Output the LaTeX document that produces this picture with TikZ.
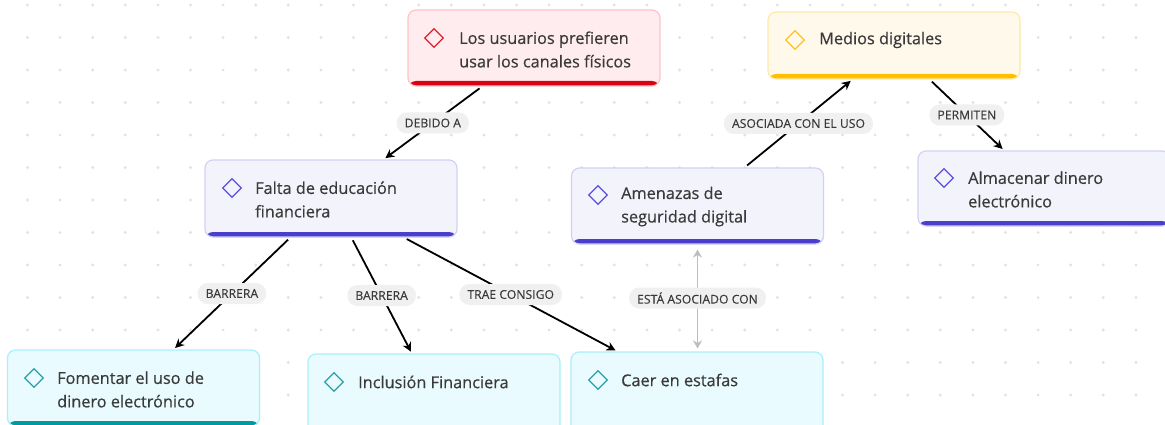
\documentclass[tikz,border=0pt]{standalone}
\usepackage{fontspec}
\setmainfont{Open Sans}
\newfontfamily\boxfont[FakeBold=0.5]{Open Sans}
\newfontfamily\pillfont[FakeBold=0.2]{Open Sans}
\usetikzlibrary{shapes.geometric,arrows.meta}
\definecolor{redfill}{HTML}{FFECEE}
\definecolor{redline}{HTML}{FFC4C8}
\definecolor{redbar}{HTML}{DD0010}
\definecolor{reddia}{HTML}{E0202A}
\definecolor{yelfill}{HTML}{FFF9EC}
\definecolor{yelline}{HTML}{FFE9A8}
\definecolor{yelbar}{HTML}{FFC000}
\definecolor{yeldia}{HTML}{FFC21F}
\definecolor{purfill}{HTML}{F3F3FC}
\definecolor{purline}{HTML}{D4D0F5}
\definecolor{purbar}{HTML}{4A3FCC}
\definecolor{purdia}{HTML}{5C4FE0}
\definecolor{cyafill}{HTML}{E9FBFE}
\definecolor{cyaline}{HTML}{A8F0FA}
\definecolor{cyabar}{HTML}{00999F}
\definecolor{cyadia}{HTML}{2AA0A8}
\definecolor{txt}{HTML}{3A3A3A}
\definecolor{dotc}{HTML}{E2E2E2}
\definecolor{pill}{HTML}{F0F0F0}
\definecolor{grayarrow}{HTML}{BDBDBD}
\tikzset{
  box/.style n args={3}{draw=#2, fill=#1, line width=1.2pt, rounded corners=8pt,
    minimum width=252pt, minimum height=76pt, inner sep=0pt,
    path picture={\fill[#3] ([yshift=5pt]path picture bounding box.south west) rectangle (path picture bounding box.south east);}},
  dia/.style={draw=#1, shape=diamond, minimum size=19pt, inner sep=0pt, line width=1.3pt},
  lbltext/.style={anchor=west, text=txt, align=left, inner sep=0pt, font=\boxfont\fontsize{16.3}{23.5}\selectfont},
  conn/.style={line width=1.8pt, black, -{Stealth[length=9pt,width=9pt]}, shorten <=3pt, shorten >=2pt},
  lbl/.style={fill=pill, rounded corners=10pt, text=txt, font=\pillfont\fontsize{12.2}{14}\selectfont, inner xsep=8pt, inner ysep=4pt, minimum height=21pt},
}
\begin{document}
\begin{tikzpicture}[x=1pt,y=-1pt]
\clip (0,0) rectangle (1165,425);
\fill[white] (0,0) rectangle (1165,425);
% dot grid
\foreach \i in {0,...,35} {
  \foreach \j in {0,...,13} {
    \fill[dotc] (27.5+32.6*\i, 5+32.5*\j) circle (1.6pt);
  }
}
% boxes
\node[box={redfill}{redline}{redbar}] (usu) at (534,48) {};
\node[box={yelfill}{yelline}{yelbar}, minimum height=67pt] (med) at (894,45.5) {};
\node[box={purfill}{purline}{purbar}, minimum height=77pt] (fal) at (331,198.5) {};
\node[box={purfill}{purline}{purbar}] (ame) at (697.5,206) {};
\node[box={purfill}{purline}{purbar}, minimum height=75pt] (alm) at (1044,188.5) {};
\node[box={cyafill}{cyaline}{cyabar}] (fom) at (133.5,388) {};
\node[box={cyafill}{cyaline}{cyabar}, minimum height=84pt] (inc) at (434,396) {};
\node[box={cyafill}{cyaline}{cyabar}, minimum height=84pt] (cae) at (697,394) {};
% diamonds and texts
\node[dia=reddia] (d1) at (434,38) {};
\node[lbltext] (t1) at (459,49.5) {Los usuarios prefieren\\usar los canales físicos};
\node[dia=yeldia] (d2) at (795,40) {};
\node[lbltext] (t2) at (819,40) {Medios digitales};
\node[dia=purdia] (d3) at (232,188) {};
\node[lbltext] (t3) at (255,199.5) {Falta de educación\\financiera};
\node[dia=purdia] (d4) at (598,195) {};
\node[lbltext] (t4) at (621,206.5) {Amenazas de\\seguridad digital};
\node[dia=purdia] (d5) at (944,178) {};
\node[lbltext] (t5) at (968,189.5) {Almacenar dinero\\electrónico};
\node[dia=cyadia] (d6) at (34,378) {};
\node[lbltext] (t6) at (57,389.5) {Fomentar el uso de\\dinero electrónico};
\node[dia=cyadia] (d7) at (334,382) {};
\node[lbltext] (t7) at (358,382) {Inclusión Financiera};
\node[dia=cyadia] (d8) at (598,380) {};
\node[lbltext] (t8) at (621,380) {Caer en estafas};
% connectors
\draw[conn] (usu) -- node[lbl] (l1) {DEBIDO A} (fal);
\draw[conn] (ame) -- node[lbl] (l2) {ASOCIADA CON EL USO} (med);
\draw[conn] (med) -- node[lbl] (l3) {PERMITEN} (alm);
\draw[conn] (fal) -- node[lbl] (l4) {BARRERA} (fom);
\draw[conn] (fal) -- node[lbl] (l5) {BARRERA} (inc);
\draw[conn] (fal) -- node[lbl] (l6) {TRAE CONSIGO} (cae);
\draw[line width=1.8pt, grayarrow, {Stealth[length=8pt,width=9pt]}-{Stealth[length=8pt,width=9pt]}, shorten <=5pt, shorten >=3pt] (ame.south) -- node[lbl] (l7) {ESTÁ ASOCIADO CON} (ame.south |- cae.north);
\end{tikzpicture}
\end{document}
